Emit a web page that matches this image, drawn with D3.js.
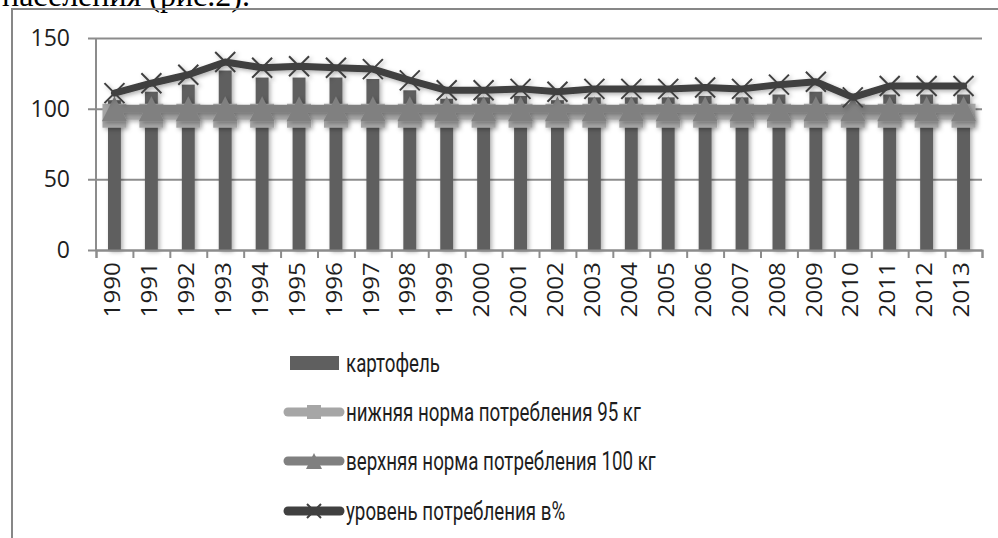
<!DOCTYPE html>
<html>
<head>
<meta charset="utf-8">
<script src="https://cdn.jsdelivr.net/npm/d3@7"></script>
<style>
    body { margin: 0; background: #fff; }
    svg { display: block; }
    text { font-family: "Open Sans", sans-serif; fill: #1e1e1e; }
</style>
</head>
<body>
<svg id="chart" width="998" height="538"></svg>
<script>
// Chart data
const years = ['1990', '1991', '1992', '1993', '1994', '1995', '1996', '1997', '1998', '1999', '2000', '2001',
               '2002', '2003', '2004', '2005', '2006', '2007', '2008', '2009', '2010', '2011', '2012', '2013'];
const potatoes = [106, 112, 117, 127, 122, 122, 122, 121, 113, 107, 108, 109,
                  106, 108, 108, 108, 109, 108, 110, 112, 103, 110, 110, 110];
const lowNorm = [95, 95, 95, 95, 95, 95, 95, 95, 95, 95, 95, 95,
                 95, 95, 95, 95, 95, 95, 95, 95, 95, 95, 95, 95];
const highNorm = [100, 100, 100, 100, 100, 100, 100, 100, 100, 100, 100, 100,
                  100, 100, 100, 100, 100, 100, 100, 100, 100, 100, 100, 100];
const consumptionPct = [111, 118, 124, 133, 129, 130, 129, 128, 120, 113, 113, 114,
                        112, 114, 114, 114, 115, 114, 117, 119, 108, 116, 116, 116];
const yTicks = [0, 50, 100, 150];
const legendNames = ['картофель', 'нижняя норма потребления 95 кг',
                     'верхняя норма потребления 100 кг', 'уровень потребления в%'];

const chart = d3.select('#chart');

// Plot area bounds
const plot = { left: 96, right: 982, top: 38, bottom: 250 };

// Colors
const barColor = '#5f5f5f';
const lowColor = '#a6a6a6';
const highColor = '#808080';
const pctColor = '#404040';
const gridColor = '#8c8c8c';

// Scales
const x = d3.scaleBand().domain(years).range([plot.left, plot.right]);
const xBar = d3.scaleBand().domain(years).range([plot.left, plot.right])
                .paddingInner(0.65).paddingOuter(0.325);
const xEdge = d3.scaleLinear().domain([0, years.length]).range([plot.left, plot.right]);
const y = d3.scaleLinear().domain([0, 150]).range([plot.bottom, plot.top]);
const cx = d => x(d) + x.bandwidth() / 2;

// Soft shadow like the spreadsheet effect
const defs = chart.append('defs');
defs.append('filter')
    .attr('id', 'shadow')
    .attr('filterUnits', 'userSpaceOnUse')
    .attr('x', 0).attr('y', 0).attr('width', 998).attr('height', 538)
    .append('feDropShadow')
        .attr('dx', 2).attr('dy', 2)
        .attr('stdDeviation', 2)
        .attr('flood-color', '#000')
        .attr('flood-opacity', 0.3);

// Text of the page above the chart (cropped)
chart.append('text')
    .attr('x', 2).attr('y', 6)
    .style('font-family', '"Liberation Serif", serif')
    .style('font-size', '32px')
    .style('fill', '#000')
    .text('населения (рис.2).');

// Chart frame (cut off at right and bottom)
chart.append('path')
    .attr('d', 'M12,538V9H998')
    .attr('fill', 'none')
    .attr('stroke', '#878787')
    .attr('stroke-width', 2);

// Horizontal gridlines
const grid = chart.append('g')
    .attr('transform', `translate(${plot.left - 8}, 0)`)
    .call(d3.axisLeft(y).tickValues(yTicks).tickSize(-(plot.right - plot.left + 8)).tickFormat(''));
grid.select('.domain').remove();
grid.selectAll('line').attr('stroke', gridColor).attr('stroke-width', 2);

// Y tick labels
const yAxis = chart.append('g')
    .attr('transform', `translate(${plot.left - 8}, 0)`)
    .call(d3.axisLeft(y).tickValues(yTicks).tickSize(0).tickPadding(18));
yAxis.select('.domain').remove();
yAxis.selectAll('text').style('font-size', '23px').style('font-family', '"Open Sans", sans-serif');

// Vertical axis line
chart.append('line')
    .attr('x1', plot.left).attr('x2', plot.left)
    .attr('y1', plot.top).attr('y2', plot.bottom)
    .attr('stroke', gridColor).attr('stroke-width', 2);

// Bars
chart.append('g')
    .attr('filter', 'url(#shadow)')
    .selectAll('rect')
    .data(years)
    .enter()
    .append('rect')
        .attr('x', d => xBar(d))
        .attr('width', xBar.bandwidth())
        .attr('y', (d, i) => y(potatoes[i]))
        .attr('height', (d, i) => plot.bottom - y(potatoes[i]))
        .attr('fill', barColor);

// Category axis with ticks between the years
const xTicks = chart.append('g')
    .attr('transform', `translate(0, ${plot.bottom})`)
    .call(d3.axisBottom(xEdge).tickValues(d3.range(years.length + 1)).tickSize(8).tickFormat(''));
xTicks.selectAll('line, path').attr('stroke', gridColor).attr('stroke-width', 2);

const xLabels = chart.append('g')
    .attr('transform', `translate(0, ${plot.bottom})`)
    .call(d3.axisBottom(x).tickSize(0));
xLabels.select('.domain').remove();
xLabels.selectAll('text')
    .attr('transform', 'rotate(-90) scale(1.1, 1)')
    .attr('text-anchor', 'end')
    .attr('x', -11)
    .attr('y', -2)
    .attr('dy', '0.35em')
    .style('font-size', '22px')
    .style('font-family', '"Open Sans", sans-serif');

// Marker shapes
const squarePath = s => `M${-s / 2},${-s / 2}h${s}v${s}h${-s}Z`;
const trianglePath = s => `M0,${-s / 2}L${s / 2},${s / 2}L${-s / 2},${s / 2}Z`;
const crossPath = s => `M${-s / 2},${-s / 2}L${s / 2},${s / 2}M${-s / 2},${s / 2}L${s / 2},${-s / 2}`;

function drawSeries(values, color, width, marker, markerSize, markerStroke) {
    const g = chart.append('g').attr('filter', 'url(#shadow)');
    const line = d3.line()
        .x((d, i) => cx(years[i]))
        .y(d => y(d));
    g.append('path')
        .datum(values)
        .attr('d', line)
        .attr('fill', 'none')
        .attr('stroke', color)
        .attr('stroke-width', width)
        .attr('stroke-linejoin', 'round')
        .attr('stroke-linecap', 'round');
    g.selectAll('.marker')
        .data(values)
        .enter()
        .append('path')
            .attr('class', 'marker')
            .attr('transform', (d, i) => `translate(${cx(years[i])}, ${y(d)})`)
            .attr('d', marker(markerSize))
            .attr('fill', markerStroke ? 'none' : color)
            .attr('stroke', markerStroke ? markerStroke : 'none')
            .attr('stroke-width', markerStroke ? 2 : 0);
    return g;
}

// Norm lines and consumption level
drawSeries(lowNorm, lowColor, 8, squarePath, 24);
drawSeries(highNorm, highColor, 8, trianglePath, 25);
drawSeries(consumptionPct, pctColor, 7, crossPath, 20, pctColor);

// Legend
const legendY = [363, 412, 461, 511];
const legend = chart.append('g');

legend.append('rect')
    .attr('x', 290).attr('y', legendY[0] - 7)
    .attr('width', 49).attr('height', 14)
    .attr('fill', barColor);

const legendLines = [
    { color: lowColor, marker: squarePath(14), fill: lowColor, stroke: 'none' },
    { color: highColor, marker: trianglePath(16), fill: highColor, stroke: 'none' },
    { color: pctColor, marker: crossPath(14), fill: 'none', stroke: pctColor }
];
legendLines.forEach((l, i) => {
    const cy = legendY[i + 1];
    legend.append('line')
        .attr('x1', 288).attr('x2', 340)
        .attr('y1', cy).attr('y2', cy)
        .attr('stroke', l.color)
        .attr('stroke-width', 9)
        .attr('stroke-linecap', 'round');
    legend.append('path')
        .attr('transform', `translate(314, ${cy})`)
        .attr('d', l.marker)
        .attr('fill', l.fill)
        .attr('stroke', l.stroke)
        .attr('stroke-width', 2);
});

legend.selectAll('text')
    .data(legendNames)
    .enter()
    .append('text')
        .attr('transform', (d, i) => `translate(346, ${legendY[i]}) scale(0.75, 1)`)
        .attr('dy', '0.35em')
        .style('font-family', 'Roboto, "Open Sans", sans-serif')
        .style('font-size', '25px')
        .text(d => d);
</script>
</body>
</html>
